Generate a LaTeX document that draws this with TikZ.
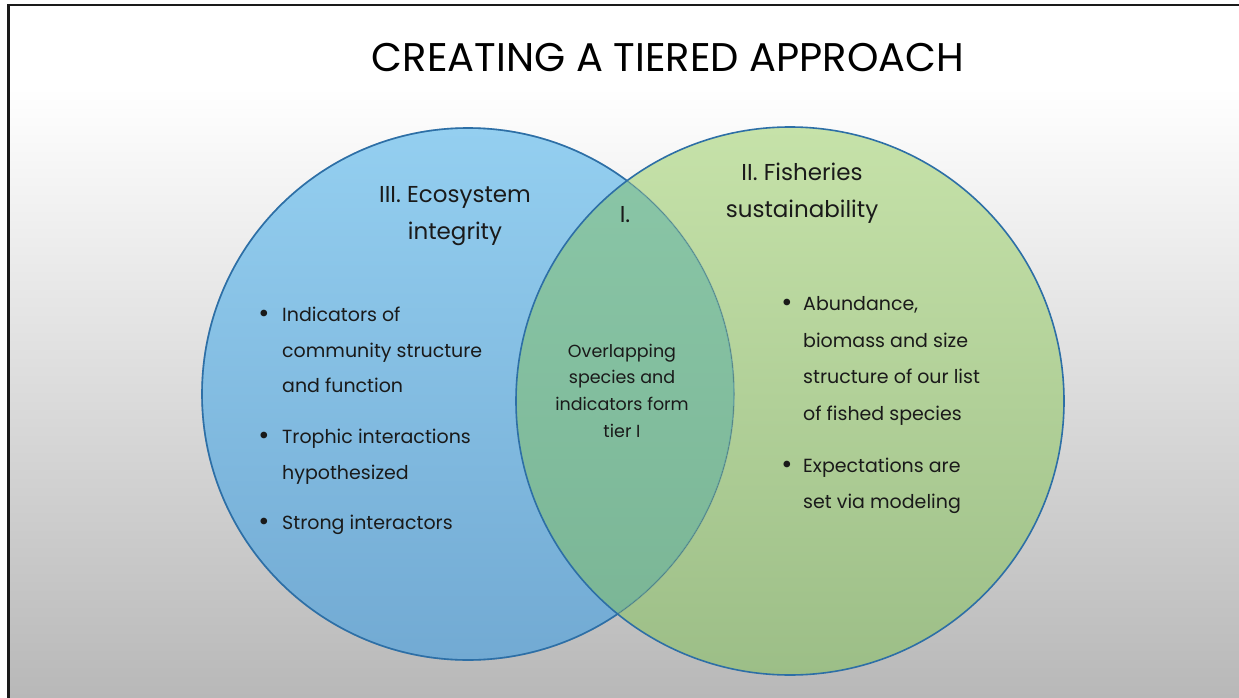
\documentclass[tikz,border=0pt]{standalone}
\usepackage{fontspec}
\setmainfont{Poppins}
\newfontfamily\titlefont{Poppins}
\definecolor{slidegray}{HTML}{B8B8B8}
\definecolor{ecotop}{HTML}{94CFF0}
\definecolor{ecobot}{HTML}{72AAD3}
\definecolor{fishtop}{HTML}{C6E2A9}
\definecolor{fishbot}{HTML}{9CBE87}
\definecolor{lenstop}{HTML}{8BC7A8}
\definecolor{lensbot}{HTML}{79B494}
\definecolor{rimblue}{HTML}{2D6FA6}
\definecolor{inkblack}{HTML}{1A1A1A}
\begin{document}
\begin{tikzpicture}
[x=1pt,y=-1pt,
  ecofill/.style={top color=ecotop,bottom color=ecobot},%
  fishfill/.style={top color=fishtop,bottom color=fishbot},%
  lensfill/.style={top color=lenstop,bottom color=lensbot},%
  rimline/.style={draw=rimblue,line width=1.6pt},%
  headtext/.style={anchor=base,inner sep=0pt,text=inkblack,font=\fontsize{23}{27}\selectfont},%
  itemtext/.style={anchor=base west,inner sep=0pt,text=inkblack,font=\fontsize{19}{23}\selectfont},%
  midtext/.style={anchor=base,inner sep=0pt,text=inkblack,font=\fontsize{17.5}{21}\selectfont},%
  bulletmark/.style={anchor=base,inner sep=0pt,text=inkblack,font=\fontsize{27}{30}\selectfont}]
\useasboundingbox (0,0) rectangle (1239,698);
%% slide background
\fill[white] (0,0) rectangle (1239,698);
\shade[top color=white,bottom color=slidegray] (8,87) rectangle (1239,698);
\draw[line width=2.2pt,color=inkblack] (8.5,698) -- (8.5,5) -- (1239,5);
%% title
\node[anchor=base,inner sep=0pt,text=black,font=\titlefont\fontsize{40}{44}\selectfont]
  (title) at (668,72) {CREATING A TIERED APPROACH};
%% circle centres
\coordinate (eco) at (468,394);
\coordinate (fish) at (790,401);
%% circles and overlap
\fill[ecofill] (eco) circle[radius=266pt];
\draw[rimline] (eco) circle[radius=266pt];
\fill[fishfill] (fish) circle[radius=274pt];
\begin{scope}
  \clip (eco) circle[radius=266pt];
  \fill[lensfill] (fish) circle[radius=274pt];
\end{scope}
\draw[rimline,draw opacity=0.35] (eco) circle[radius=266pt];
\draw[rimline] (fish) circle[radius=274pt];
%% circle headings
\foreach \nodename/\txt/\x/\y in {ecoa/III. Ecosystem/455/202, ecob/integrity/455/239,
    fisha/II. Fisheries/802/180, fishb/sustainability/802/217, tier/I./625/222} {
  \node[headtext] (\nodename) at (\x,\y) {\txt};
}
%% overlap text
\foreach \nodename/\txt/\y in {mida/Overlapping/357, midb/species and/383,
    midc/indicators form/410, midd/tier I/437} {
  \node[midtext] (\nodename) at (622,\y) {\txt};
}
%% bullet lists
\foreach \nodename/\txt/\x/\y in {ecoia/Indicators of/282/321, ecoib/community structure/282/357,
    ecoic/and function/282/392, ecoid/Trophic interactions/282/443,
    ecoie/hypothesized/282/479, ecoif/Strong interactors/282/529,
    fishia/{Abundance,}/803/310, fishib/biomass and size/803/347,
    fishic/structure of our list/803/383, fishid/of fished species/803/420,
    fishie/Expectations are/803/472, fishif/set via modeling/803/508} {
  \node[itemtext] (\nodename) at (\x,\y) {\txt};
}
\foreach \nodename/\x/\y in {ecoba/264/322, ecobb/264/444, ecobc/264/530,
    fishba/787/311, fishbb/787/473} {
  \node[bulletmark] (\nodename) at (\x,\y) {\textbullet};
}
\end{tikzpicture}
\end{document}
